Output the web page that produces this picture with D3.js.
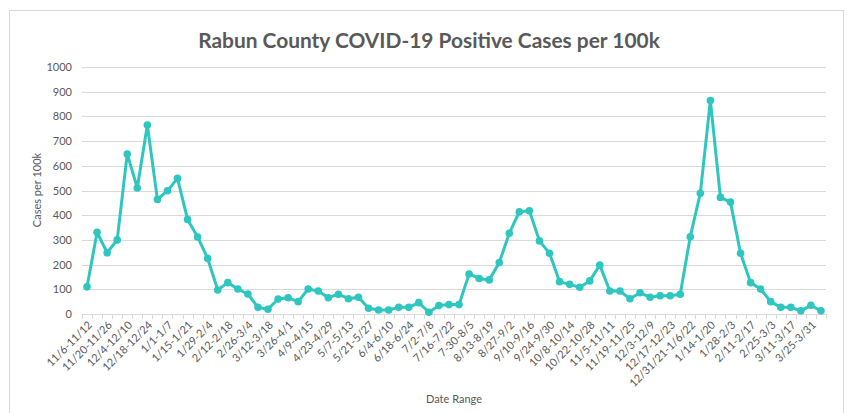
<!DOCTYPE html>
<html>
<head>
<meta charset="utf-8">
<script src="https://cdn.jsdelivr.net/npm/d3@7"></script>
<style>
  html, body { margin: 0; padding: 0; background: #fff; }
  svg { display: block; }
  text { font-family: Lato, "Open Sans", sans-serif; }
</style>
</head>
<body>
<svg id="chart" width="848" height="413"></svg>
<script>
const title = "Rabun County COVID-19 Positive Cases per 100k";
const yTitle = "Cases per 100k";
const xTitle = "Date Range";

const categories = [
  "11/6-11/12","11/13-11/19","11/20-11/26","11/27-12/3","12/4-12/10","12/11-12/17",
  "12/18-12/24","12/25-12/31","1/1-1/7","1/8-1/14","1/15-1/21","1/22-1/28",
  "1/29-2/4","2/5-2/11","2/12-2/18","2/19-2/25","2/26-3/4","3/5-3/11",
  "3/12-3/18","3/19-3/25","3/26-4/1","4/2-4/8","4/9-4/15","4/16-4/22",
  "4/23-4/29","4/30-5/6","5/7-5/13","5/14-5/20","5/21-5/27","5/28-6/3",
  "6/4-6/10","6/11-6/17","6/18-6/24","6/25-7/1","7/2-7/8","7/9-7/15",
  "7/16-7/22","7/23-7/29","7-30-8/5","8/6-8/12","8/13-8/19","8/20-8/26",
  "8/27-9/2","9/3-9/9","9/10-9/16","9/17-9/23","9/24-9/30","10/1-10/7",
  "10/8-10/14","10/15-10/21","10/22-10/28","10/29-11/4","11/5-11/11","11/12-11/18",
  "11/19-11/25","11/26-12/2","12/3-12/9","12/10-12/16","12/17-12/23","12/24-12/30",
  "12/31/21-1/6/22","1/7-1/13","1/14-1/20","1/21-1/27","1/28-2/3","2/4-2/10",
  "2/11-2/17","2/18-2/24","2/25-3/3","3/4-3/10","3/11-3/17","3/18-3/24",
  "3/25-3/31","4/1-4/7"
];

const cases = [
  110, 331, 248, 300, 648, 510, 765, 464, 499, 549, 383, 312,
  225, 97, 127, 101, 81, 27, 19, 61, 66, 50, 101, 93,
  66, 80, 62, 68, 23, 16, 16, 27, 27, 46, 7, 34,
  38, 38, 162, 144, 138, 208, 327, 414, 418, 296, 246, 131,
  120, 108, 134, 198, 93, 93, 62, 86, 68, 74, 74, 80,
  313, 489, 864, 472, 453, 246, 127, 101, 50, 27, 27, 13,
  35, 13
];

const yTicks = [0, 100, 200, 300, 400, 500, 600, 700, 800, 900, 1000];

const svg = d3.select("#chart");
const plot = { left: 82, right: 826, top: 67, bottom: 314 };
const textColor = "#595959";
const gridColor = "#d9d9d9";
const lineColor = "#2fc6c0";

// outer border
svg.append("rect")
  .attr("x", 9.5).attr("y", 10.5)
  .attr("width", 834).attr("height", 420)
  .attr("fill", "none").attr("stroke", gridColor).attr("stroke-width", 1);

const x = d3.scaleBand().domain(categories).range([plot.left, plot.right]).paddingInner(0).paddingOuter(0);
const y = d3.scaleLinear().domain([0, 1000]).range([plot.bottom, plot.top]);

// gridlines
svg.append("g")
  .selectAll("line")
  .data(yTicks.filter(d => d > 0))
  .join("line")
  .attr("x1", plot.left).attr("x2", plot.right)
  .attr("y1", d => Math.round(y(d)) + 0.5).attr("y2", d => Math.round(y(d)) + 0.5)
  .attr("stroke", gridColor).attr("stroke-width", 1);

// y axis labels
const yAxis = d3.axisLeft(y).tickValues(yTicks).tickFormat(d3.format("d")).tickSize(0).tickPadding(10);
const gy = svg.append("g").attr("transform", `translate(${plot.left},0)`).call(yAxis);
gy.select(".domain").remove();
gy.selectAll("text").attr("fill", textColor).style("font-size", "11px").style("font-family", "Lato, sans-serif");

// x axis line and ticks at band boundaries
const gx = svg.append("g");
gx.append("line")
  .attr("x1", plot.left).attr("x2", plot.right)
  .attr("y1", plot.bottom + 0.5).attr("y2", plot.bottom + 0.5)
  .attr("stroke", gridColor).attr("stroke-width", 1);
const boundaries = categories.map(c => x(c)).concat([plot.right]);
gx.selectAll("line.tick")
  .data(boundaries)
  .join("line")
  .attr("class", "tick")
  .attr("x1", d => Math.round(d) + 0.5).attr("x2", d => Math.round(d) + 0.5)
  .attr("y1", plot.bottom).attr("y2", plot.bottom + 5)
  .attr("stroke", gridColor).attr("stroke-width", 1);

// x labels (every other category), rotated -45
gx.selectAll("text.xl")
  .data(categories.filter((d, i) => i % 2 === 0))
  .join("text")
  .attr("class", "xl")
  .attr("transform", d => `translate(${x(d) + x.bandwidth() / 2 + 3},${plot.bottom + 9}) rotate(-45)`)
  .attr("text-anchor", "end")
  .attr("dy", "0.35em")
  .attr("fill", textColor)
  .style("font-size", "11px")
  .text(d => d);

// line
const line = d3.line()
  .x((d, i) => x(categories[i]) + x.bandwidth() / 2)
  .y(d => y(d));

svg.append("path")
  .datum(cases)
  .attr("d", line)
  .attr("fill", "none")
  .attr("stroke", lineColor)
  .attr("stroke-width", 3)
  .attr("stroke-linejoin", "round");

svg.append("g")
  .selectAll("circle")
  .data(cases)
  .join("circle")
  .attr("cx", (d, i) => x(categories[i]) + x.bandwidth() / 2)
  .attr("cy", d => y(d))
  .attr("r", 3.8)
  .attr("fill", lineColor);

// title
const t = svg.append("text")
  .attr("x", 429).attr("y", 48)
  .attr("text-anchor", "middle")
  .attr("fill", textColor)
  .style("font-weight", "bold")
  .style("font-size", "20px")
  .text(title);
const tw = t.node().getComputedTextLength();
t.style("font-size", (20 * 462 / tw) + "px");

// axis titles
svg.append("text")
  .attr("transform", `translate(41,190) rotate(-90)`)
  .attr("text-anchor", "middle")
  .attr("fill", textColor)
  .style("font-size", "11px")
  .text(yTitle);

svg.append("text")
  .attr("x", 454).attr("y", 403)
  .attr("text-anchor", "middle")
  .attr("fill", textColor)
  .style("font-size", "11px")
  .text(xTitle);
</script>
</body>
</html>
